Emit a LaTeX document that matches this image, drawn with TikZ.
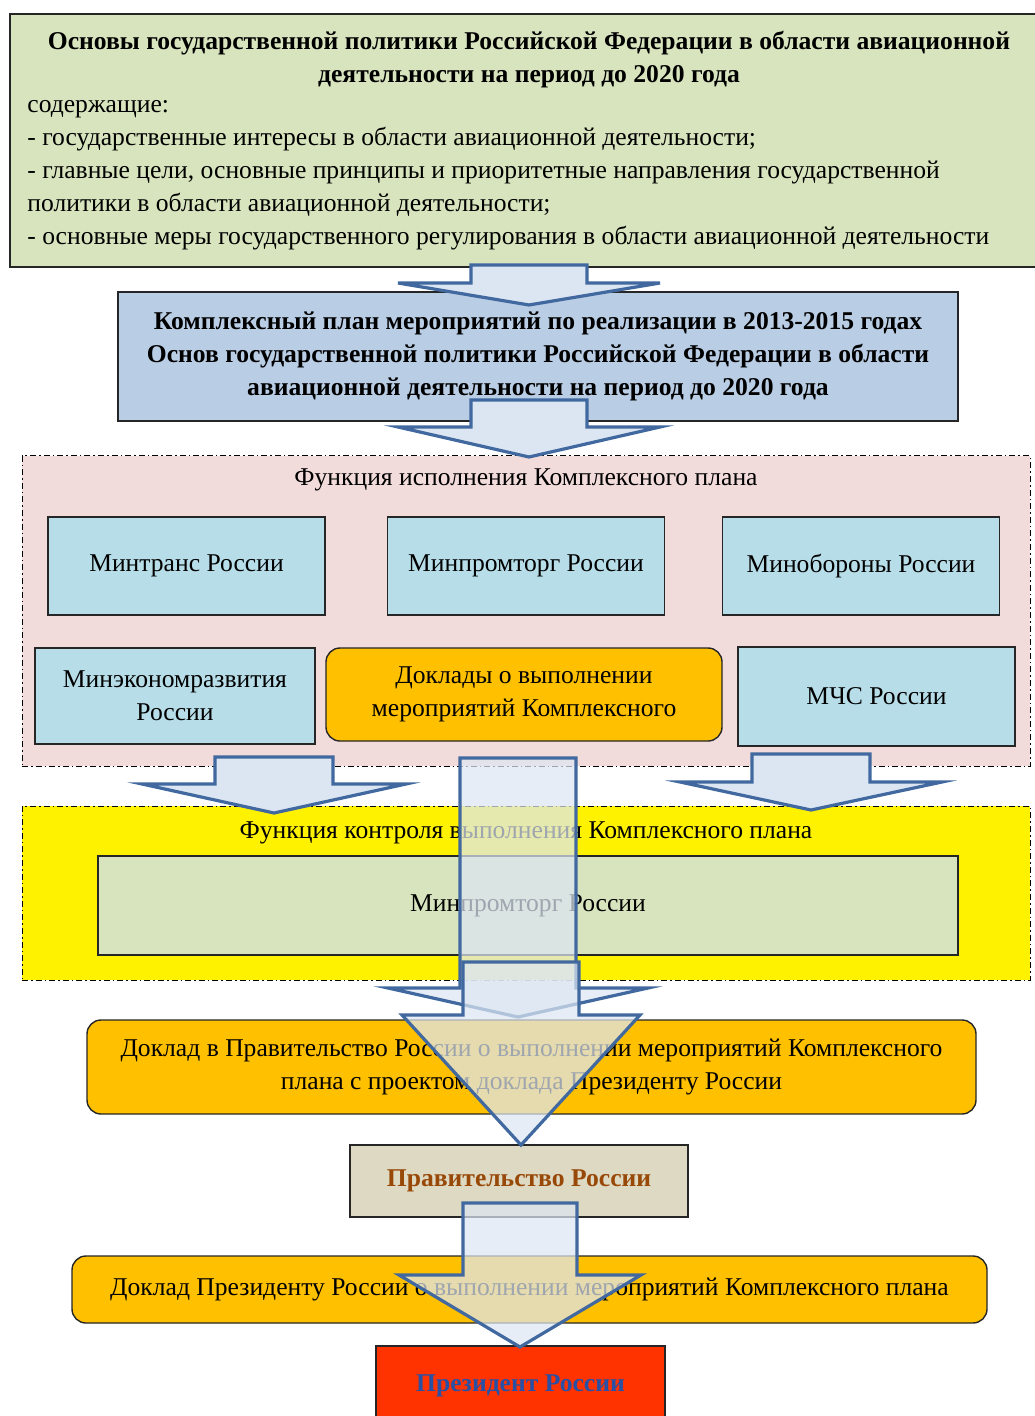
\documentclass[tikz,border=0pt]{standalone}
\usepackage{fontspec}
\setmainfont{Liberation Serif}
\definecolor{boxgreen}{RGB}{215,228,189}
\definecolor{boxblue}{RGB}{185,205,229}
\definecolor{boxpink}{RGB}{242,220,219}
\definecolor{boxcyan}{RGB}{183,221,232}
\definecolor{boxorange}{RGB}{255,192,0}
\definecolor{boxtan}{RGB}{221,217,195}
\definecolor{boxred}{RGB}{255,51,0}
\definecolor{arrowfill}{RGB}{220,230,242}
\definecolor{arrowline}{RGB}{65,105,160}
\definecolor{textbrown}{RGB}{152,72,7}
\definecolor{textblue}{RGB}{40,80,165}
\newcommand{\boxfont}{\fontsize{12.8pt}{16.5pt}\selectfont}
% block arrow: [opts]{x}{top}{head base}{tip}{half shaft}{half head}
\newcommand{\bigarrow}[7][]{%
  \draw[bigarr,#1] (#2-#6,#3) -- (#2+#6,#3) -- (#2+#6,#4) -- (#2+#7,#4) -- (#2,#5)
    -- (#2-#7,#4) -- (#2-#6,#4) -- cycle;}

\begin{document}
\begin{tikzpicture}[x=0.5pt,y=-0.5pt,
  box/.style={draw=black!85,line width=0.7pt,inner sep=0pt,align=center,font=\boxfont},
  roundbox/.style={box,fill=boxorange,rounded corners=7pt},
  frame/.style={draw=black,line width=0.5pt,dash pattern=on 3pt off 1.5pt on 0.8pt off 1.5pt},
  bigarr/.style={draw=arrowline,fill=arrowfill,line width=1.6pt,line join=miter},
  seethru/.style={fill opacity=0.72}]
\useasboundingbox (0,0) rectangle (1034,1416);
% basic document
\node[box,fill=boxgreen,minimum width=513pt,minimum height=126.5pt] (osnovy) at (523,140.5) {};
\node[font=\boxfont\bfseries,align=center] (osnovytitle) at (529,60)
  {Основы государственной политики Российской Федерации в области авиационной\\
   деятельности на период до 2020 года};
\node[font=\boxfont,align=left,anchor=west,inner sep=0pt] (osnovytext) at (27,175)
  {содержащие:\\
   - государственные интересы в области авиационной деятельности;\\
   - главные цели, основные принципы и приоритетные направления государственной\\
   политики в области авиационной деятельности;\\
   - основные меры государственного регулирования в области авиационной деятельности};
% complex plan
\node[box,fill=boxblue,minimum width=420pt,minimum height=64.5pt,font=\boxfont\bfseries] (plan) at (538,356.5)
  {Комплексный план мероприятий по реализации в 2013-2015 годах\\
   Основ государственной политики Российской Федерации в области\\
   авиационной деятельности на период до 2020 года};
% execution
\node[frame,fill=boxpink,minimum width=504pt,minimum height=155pt] (ispoln) at (526,611) {};
\node[font=\boxfont] (ispolntitle) at (526,480) {Функция исполнения Комплексного плана};
\node[box,fill=boxcyan,minimum width=138.5pt,minimum height=49pt] (mintrans) at (186.5,566) {Минтранс России};
\node[box,fill=boxcyan,minimum width=138.5pt,minimum height=49pt] (minprom) at (526,566) {Минпромторг России};
\node[box,fill=boxcyan,minimum width=138.5pt,minimum height=49pt] (minobor) at (861,566) {Минобороны России};
\node[box,fill=boxcyan,minimum width=140pt,minimum height=48pt] (minekon) at (175,696) {Минэкономразвития\\России};
\node[roundbox,minimum width=198pt,minimum height=46.5pt] (doklady) at (524,694.5)
  {Доклады о выполнении\\мероприятий Комплексного};
\node[box,fill=boxcyan,minimum width=138.5pt,minimum height=49.5pt] (mchs) at (876.5,696.5) {МЧС России};
% control
\node[frame,fill=yellow,minimum width=504pt,minimum height=87pt] (kontrol) at (526,893) {};
\node[font=\boxfont] (kontroltitle) at (526,833) {Функция контроля выполнения Комплексного плана};
\node[box,fill=boxgreen,minimum width=430pt,minimum height=49.5pt] (minprom2) at (528,905.5) {Минпромторг России};
% reports
\node[roundbox,minimum width=444.5pt,minimum height=47pt] (doklad1) at (531.5,1067)
  {Доклад в Правительство России о выполнении мероприятий Комплексного\\
   плана с проектом доклада Президенту России};
\node[box,fill=boxtan,minimum width=169pt,minimum height=36pt,font=\boxfont\bfseries,text=textbrown] (pravit) at (519,1181)
  {Правительство России};
\node[roundbox,minimum width=457.5pt,minimum height=33.5pt] (doklad2) at (529.5,1289.5)
  {Доклад Президенту России о выполнении мероприятий Комплексного плана};
\node[box,fill=boxred,minimum width=144.5pt,minimum height=40pt,font=\boxfont\bfseries,text=textblue] (prezident) at (520.5,1386)
  {Президент России};
% arrows
\bigarrow{529}{265}{283}{305}{58}{131}
\bigarrow{529}{400}{427}{457}{58}{131}
\bigarrow{274}{757}{784}{813}{59}{132}
\bigarrow{811}{754}{782}{810}{59}{131}
\bigarrow[seethru]{518}{758}{988}{1017}{58}{130}
\bigarrow[seethru]{521}{962}{1015}{1145}{58}{119}
\bigarrow[seethru]{520}{1203}{1275}{1347}{57}{121}
\end{tikzpicture}
\end{document}
